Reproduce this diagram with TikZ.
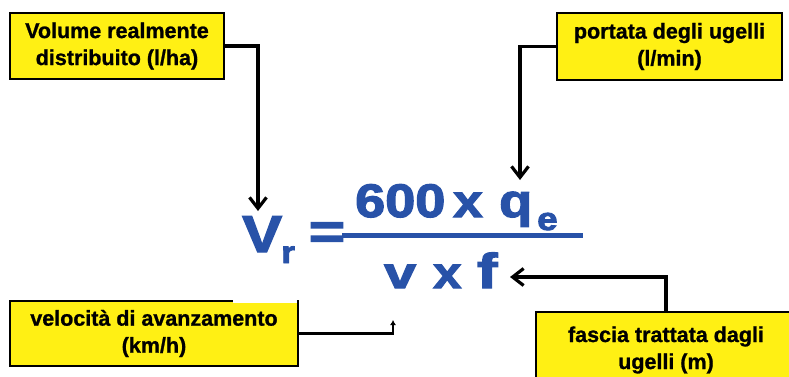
\documentclass[tikz,border=0pt]{standalone}
\usepackage{fontspec}
\setmainfont{Liberation Sans}
\newfontfamily\heavyfont{Liberation Sans}[BoldFeatures={FakeBold=2.5}]
\newfontfamily\boxfont{Liberation Sans}[BoldFeatures={FakeBold=1}]
\usetikzlibrary{arrows.meta}
\definecolor{boxyellow}{RGB}{255,240,20}
\definecolor{fblue}{RGB}{40,82,168}
\newcommand{\widen}[1]{\scalebox{1.15}[1]{#1}}
\begin{document}
\begin{tikzpicture}[x=1pt,y=-1pt,
  label box/.style={draw=black, line width=2.2pt, fill=boxyellow, align=center,
    inner sep=0pt, font=\boxfont\bfseries\fontsize{21.5}{27}\selectfont},
  fml/.style={text=fblue, inner sep=0pt, anchor=base west},
  conn/.style={draw=black, line width=3.2pt, -{Straight Barb[length=11pt,width=17pt]}},
  smallconn/.style={draw=black, line width=2.6pt, -{Latex[length=5pt,width=6pt]}}]
\useasboundingbox (0,0) rectangle (789,376);
\begin{scope}
\clip (0,0) rectangle (789,376);
% boxes
\node[label box, minimum width=214pt, minimum height=66pt] (vol) at (117,46)
  {Volume realmente\\distribuito (l/ha)};
\node[label box, minimum width=225pt, minimum height=67pt] (port) at (669.5,46.5)
  {portata degli ugelli\\(l/min)};
\node[label box, minimum width=288pt, minimum height=65pt] (vel) at (154,333.5)
  {velocità di avanzamento\\(km/h)};
\node[label box, minimum width=260pt, minimum height=76pt] (fas) at (666,350)
  {fascia trattata dagli\\ugelli (m)};
\fill[white] (233,280) rectangle (297,303);
% formula
\node[fml, font=\heavyfont\bfseries\fontsize{52}{52}\selectfont] (V) at (242,252) {\widen{V}};
\node[fml, font=\heavyfont\bfseries\fontsize{31}{31}\selectfont] (r) at (281,263) {\widen{r}};
\node[text=fblue, inner sep=0pt, font=\heavyfont\bfseries\fontsize{50}{50}\selectfont] (eq) at (327,235.5) {\scalebox{1.25}[1]{=}};
\draw[fblue, line width=4.5pt] (342,235.3) -- (583,235.3);
\node[fml, font=\heavyfont\bfseries\fontsize{47}{47}\selectfont] (six) at (355,217) {\widen{600}};
\node[fml, font=\heavyfont\bfseries\fontsize{46}{46}\selectfont] (x1) at (453,217) {\widen{x}};
\node[fml, font=\heavyfont\bfseries\fontsize{47}{47}\selectfont] (q) at (499,217) {\widen{q}};
\node[fml, font=\heavyfont\bfseries\fontsize{32}{32}\selectfont] (e) at (537,230) {\widen{e}};
\node[fml, font=\heavyfont\bfseries\fontsize{44}{44}\selectfont] (v) at (384,288) {\scalebox{1.3}[1]{v}};
\node[fml, font=\heavyfont\bfseries\fontsize{44}{44}\selectfont] (x2) at (433,288) {\widen{x}};
\node[fml, font=\heavyfont\bfseries\fontsize{49}{49}\selectfont] (f) at (477,288) {\scalebox{1.25}[1]{f}};
% arrow tips
\coordinate (tipV) at (258,211);
\coordinate (tipQ) at (520,180);
\coordinate (tipF) at (510,277);
\coordinate (tipv) at (393,320);
% connectors
\draw[conn] (vol.east) -| (tipV);
\draw[conn] (port.west) -| (tipQ);
\draw[conn] (fas.north) |- (tipF);
\draw[smallconn] (vel.east) -| (tipv);
\end{scope}
\end{tikzpicture}
\end{document}
